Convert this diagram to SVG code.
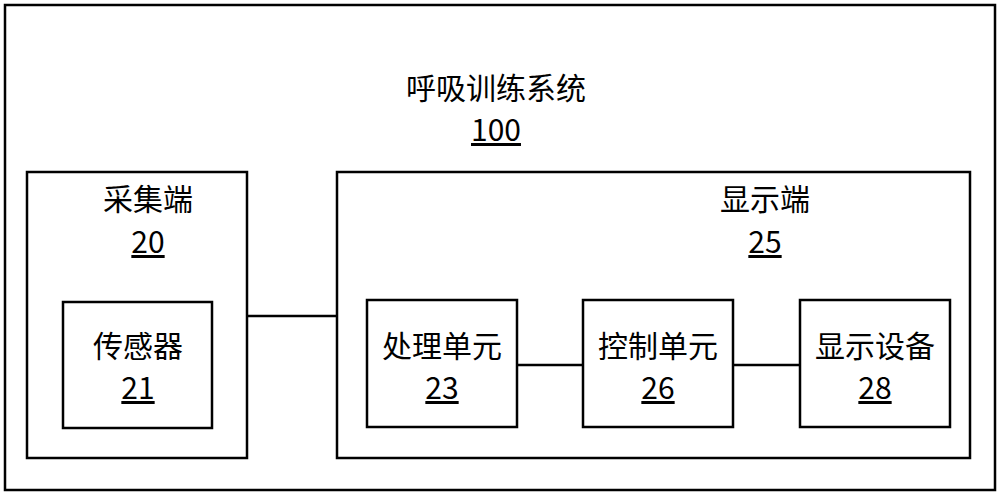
<svg xmlns="http://www.w3.org/2000/svg" width="1000" height="496" viewBox="0 0 1000 496">
<style>
rect{fill:#fff;stroke:#000;stroke-width:2.5}
text{font-family:"Noto Sans CJK SC","Liberation Sans",sans-serif;font-size:30px;text-anchor:middle;fill:#000}
.u{text-decoration:underline}
line{stroke:#000;stroke-width:2.5}
</style>
<g id="system"><rect x="5" y="5" width="990" height="485"/><text x="496" y="99">呼吸训练系统</text><text class="u" x="496" y="141">100</text></g>
<g id="collect"><rect x="27" y="172" width="220" height="286"/><text x="148" y="210">采集端</text><text class="u" x="148" y="253">20</text></g>
<g id="display"><rect x="337" y="172" width="633" height="286"/><text x="765" y="210">显示端</text><text class="u" x="765" y="253">25</text></g>
<g id="sensor"><rect x="63" y="302" width="149" height="126"/><text x="138" y="357">传感器</text><text class="u" x="138" y="399">21</text></g>
<g id="proc"><rect x="367" y="300" width="150" height="127"/><text x="442" y="357">处理单元</text><text class="u" x="442" y="399">23</text></g>
<g id="ctrl"><rect x="583" y="300" width="150" height="127"/><text x="658" y="357">控制单元</text><text class="u" x="658" y="399">26</text></g>
<g id="dev"><rect x="800" y="300" width="150" height="127"/><text x="875" y="357">显示设备</text><text class="u" x="875" y="399">28</text></g>
<g id="connectors"><line x1="247" y1="316" x2="337" y2="316"/><line x1="517" y1="365" x2="583" y2="365"/><line x1="733" y1="365" x2="800" y2="365"/></g>
</svg>
